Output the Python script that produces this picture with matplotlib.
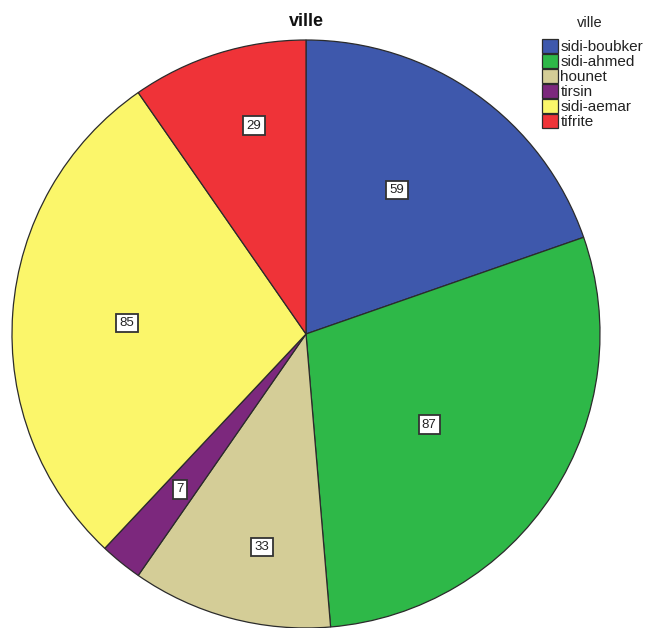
import numpy as np
import matplotlib
matplotlib.use("Agg")
import matplotlib.pyplot as plt

plt.rcParams['font.family'] = ['Liberation Sans', 'DejaVu Sans']

villes = ['sidi-boubker', 'sidi-ahmed', 'hounet', 'tirsin', 'sidi-aemar', 'tifrite']
effectifs = [59, 87, 33, 7, 85, 29]
couleurs = ['#3e58ac', '#2eb848', '#d4cd97', '#7c287d', '#fbf66a', '#ef3338']
# placement des étiquettes : fraction du rayon et décalage angulaire (degrés, sens horaire)
dist_etiq = [0.58, 0.52, 0.74, 0.68, 0.61, 0.73]
decal_etiq = [-3.1, 3.3, -3.3, 0.0, -0.7, 3.4]

fig = plt.figure(figsize=(6.52, 6.28), dpi=100)
ax = fig.add_axes([12 / 652, 0, 588 / 652, 588 / 628])

wedges, _ = ax.pie(effectifs, colors=couleurs, startangle=90, counterclock=False,
                   radius=1, wedgeprops=dict(edgecolor='#2b2b2b', linewidth=0.9))
ax.set_xlim(-1, 1)
ax.set_ylim(-1, 1)
ax.set_aspect('equal')
ax.axis('off')

# étiquettes de valeurs encadrées
for w, val, d, dec in zip(wedges, effectifs, dist_etiq, decal_etiq):
    ang = np.deg2rad((w.theta1 + w.theta2) / 2 - dec)
    ax.text(d * np.cos(ang), d * np.sin(ang), str(val), ha='center', va='center',
            fontsize=9.5, color='#222222',
            bbox=dict(boxstyle='square,pad=0.25', facecolor='white',
                      edgecolor='#333333', linewidth=1.3))

fig.text(306 / 652, 1 - 22 / 628, 'ville', ha='center', va='center',
         fontsize=13, fontweight='bold', color='#111111')

# légende : titre à part, entrées serrées
fig.text(590 / 652, 1 - 23 / 628, 'ville', ha='center', va='center',
         fontsize=10.5, color='#222222')
leg = fig.legend(wedges, villes, loc='upper left',
                 bbox_to_anchor=(542 / 652, 1 - 39 / 628), frameon=False,
                 fontsize=11, handlelength=1.05,
                 handleheight=1.0, handletextpad=0.15, labelspacing=0.0,
                 borderpad=0.0, borderaxespad=0.0)
for t in leg.get_texts():
    t.set_color('#222222')

fig.savefig('out.png', dpi=100)
